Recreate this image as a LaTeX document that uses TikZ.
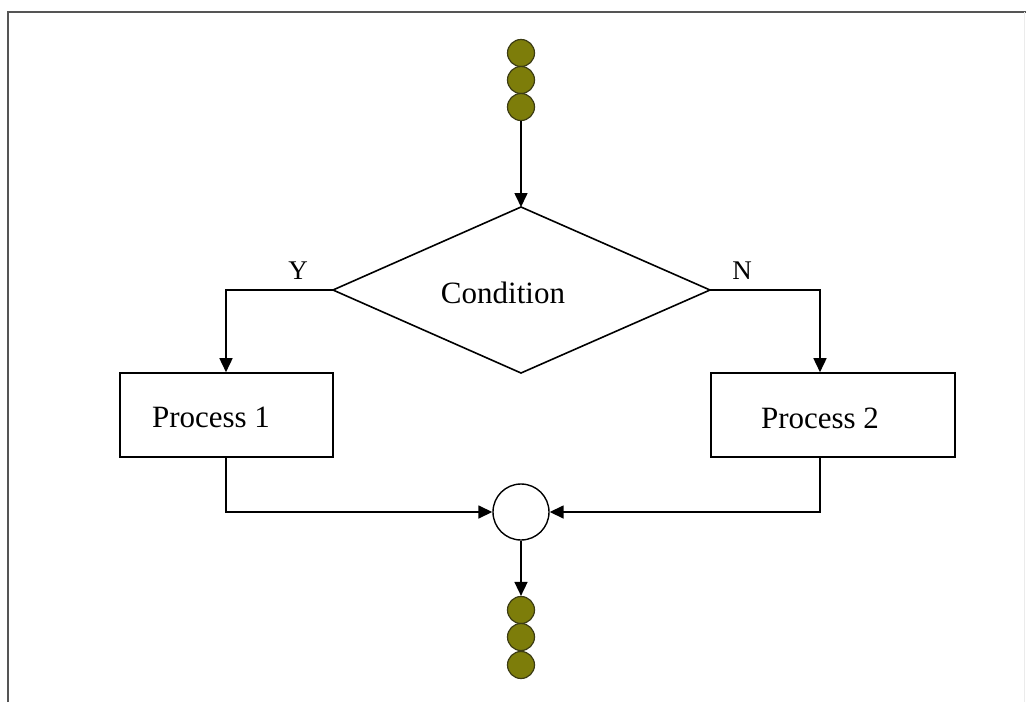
\documentclass[tikz,border=0pt]{standalone}
\usepackage{fontspec}
\setmainfont{Liberation Serif}
\usetikzlibrary{shapes.geometric,arrows.meta}
\definecolor{dotfill}{RGB}{125,125,10}
\definecolor{dotline}{RGB}{60,60,20}
\definecolor{framegray}{RGB}{85,85,85}
\begin{document}
\begin{tikzpicture}[x=1pt,y=-1pt,
  flow/.style={line width=1.6pt,-{Triangle[length=14pt,width=13pt]}},
  wire/.style={line width=1.6pt},
  procbox/.style={draw,line width=1.6pt,minimum width=213pt,minimum height=84pt,inner sep=0pt},
  bead/.style={circle,draw=dotline,fill=dotfill,line width=1.2pt,minimum size=27pt,inner sep=0pt},
  txt/.style={font=\fontsize{31}{31}\selectfont,inner sep=0pt},
  lbl/.style={font=\fontsize{27}{27}\selectfont,inner sep=0pt}]
\useasboundingbox (0,0) rectangle (1026,702);
\fill[white] (0,0) rectangle (1026,702);
% frame
\draw[framegray,line width=2.5pt] (8,702) -- (8,12) -- (1026,12);
\draw[black!8,line width=1pt] (1024,12) -- (1024,702);
% entry beads
\node[bead] (t1) at (521,53) {};
\node[bead] (t2) at (521,80) {};
\node[bead] (t3) at (521,107) {};
% decision
\coordinate (dtop) at (521,207);
\coordinate (dleft) at (333,290);
\coordinate (dright) at (710,290);
\coordinate (dbot) at (521,373);
\draw[wire,line join=miter] (dtop) -- (dright) -- (dbot) -- (dleft) -- cycle;
\node[txt] (cond) at (503,293) {Condition};
% processes
\node[procbox,minimum width=213pt] (p1) at (226.5,415) {};
\node[txt] (p1t) at (211,417) {Process 1};
\node[procbox,minimum width=244pt] (p2) at (833,415) {};
\node[txt] (p2t) at (820,418) {Process 2};
% merge point
\node[circle,draw,line width=1.4pt,minimum size=56pt,inner sep=0pt] (m) at (521,512) {};
% exit beads
\node[bead] (b1) at (521,610) {};
\node[bead] (b2) at (521,637) {};
\node[bead] (b3) at (521,665) {};
% branch labels
\node[lbl] (ly) at (298,271) {Y};
\node[lbl] (ln) at (742,271) {N};
% connectors
\draw[flow] (t3) -- (dtop);
\draw[flow] (dleft) -| (p1.north -| 226,0);
\draw[flow] (dright) -| (p2.north -| 820,0);
\coordinate (p1b) at (226,457);
\coordinate (p2b) at (820,457);
\draw[flow] (p1b) |- (m.west);
\draw[flow] (p2b) |- (m.east);
\draw[flow] (m.south) -- (b1.north);
\end{tikzpicture}
\end{document}
